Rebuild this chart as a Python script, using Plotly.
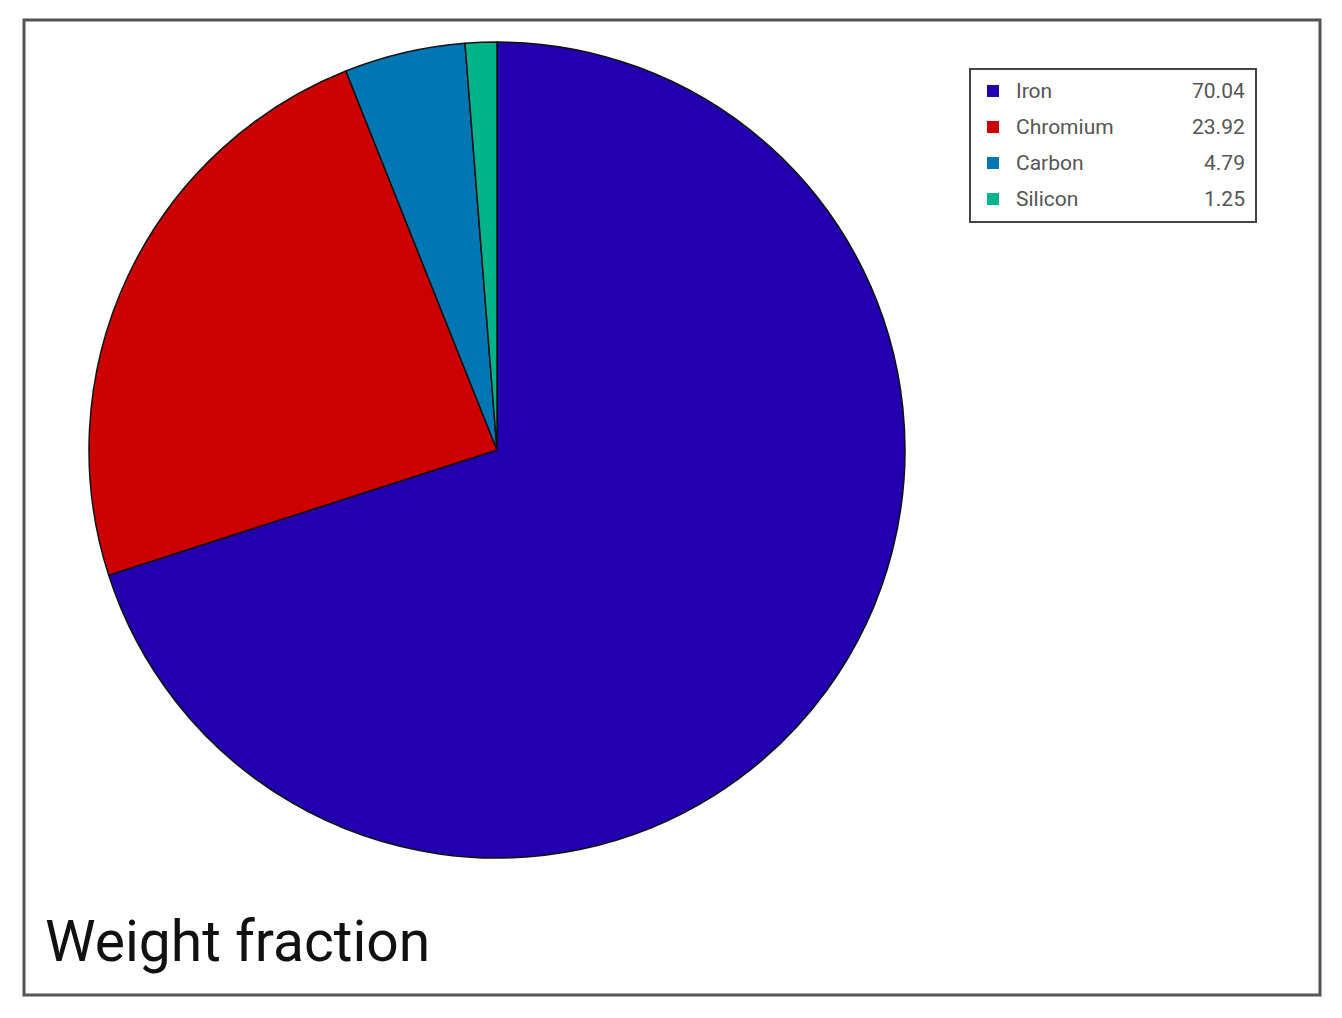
import plotly.graph_objects as go

# data
elements = ["Iron", "Chromium", "Carbon", "Silicon"]
weight_pct = [70.04, 23.92, 4.79, 1.25]
slice_colors = ["#2200b0", "#cc0000", "#0077b3", "#00b38a"]

W, H = 1342, 1018
OFF = 8  # page body margin
cx, cy, r = 497, 450, 408  # pie centre / radius in px (screen)


def px(x):
    return (x - OFF) / W


def py(y):
    return 1 - (y - OFF) / H


fig = go.Figure(go.Pie(
    labels=elements,
    values=weight_pct,
    marker=dict(colors=slice_colors, line=dict(color="#111111", width=1.5)),
    sort=False,
    direction="clockwise",
    rotation=0,
    textinfo="none",
    hoverinfo="label+value",
    showlegend=False,
    domain=dict(x=[px(cx - r), px(cx + r)], y=[py(cy + r), py(cy - r)]),
))

# outer frame
fig.add_shape(type="rect", xref="paper", yref="paper",
              x0=px(24), x1=px(1320), y0=py(995), y1=py(20),
              line=dict(color="#555555", width=3))

# legend box, drawn by hand so values can sit right-aligned
fig.add_shape(type="rect", xref="paper", yref="paper",
              x0=px(970), x1=px(1256), y0=py(222), y1=py(69),
              line=dict(color="#444444", width=2), fillcolor="white")

row0, step = 91, 36
for i, (name, val, col) in enumerate(zip(elements, weight_pct, slice_colors)):
    yy = row0 + i * step
    fig.add_shape(type="rect", xref="paper", yref="paper",
                  x0=px(987), x1=px(999), y0=py(yy + 6), y1=py(yy - 6),
                  line=dict(width=0), fillcolor=col)
    fig.add_annotation(x=px(1014), y=py(yy), xref="paper", yref="paper",
                       text=name, showarrow=False, xanchor="left", yanchor="middle",
                       font=dict(family="Roboto", size=21, color="#555555"))
    fig.add_annotation(x=px(1247), y=py(yy), xref="paper", yref="paper",
                       text=f"{val:.2f}", showarrow=False, xanchor="right", yanchor="middle",
                       font=dict(family="Roboto", size=21, color="#555555"))

fig.add_annotation(x=px(43), y=py(941), xref="paper", yref="paper",
                   text="Weight fraction", showarrow=False,
                   xanchor="left", yanchor="middle",
                   font=dict(family="Roboto", size=57, color="#111111"))

fig.update_layout(
    width=W, height=H,
    margin=dict(l=0, r=0, t=0, b=0),
    paper_bgcolor="white", plot_bgcolor="white",
)

fig.write_html("out.html")
